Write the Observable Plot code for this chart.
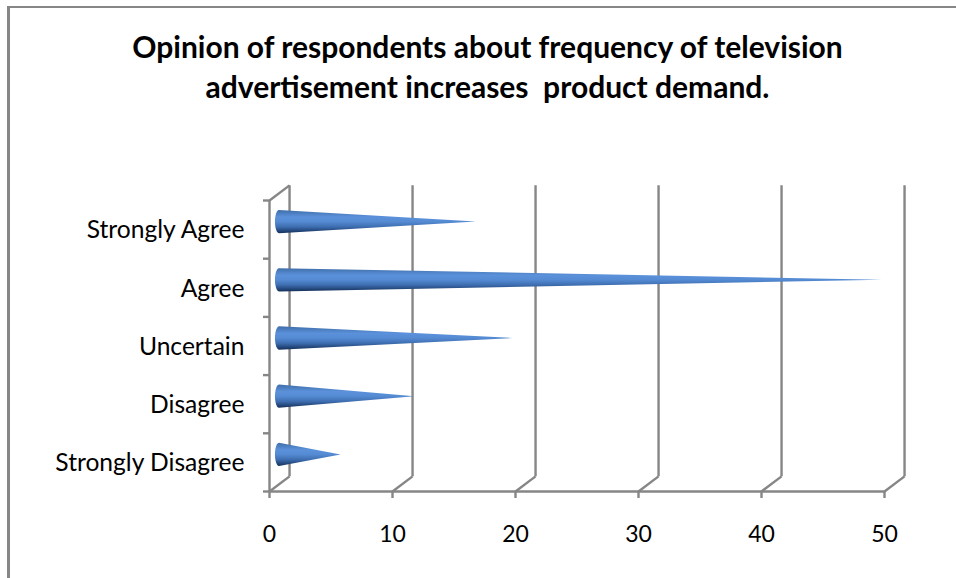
<!DOCTYPE html>
<html>
<head>
<meta charset="utf-8">
<script src="https://cdn.jsdelivr.net/npm/d3@7"></script>
<script src="https://cdn.jsdelivr.net/npm/@observablehq/plot@0.6"></script>
<style>
  html, body { margin: 0; padding: 0; background: #fff; overflow: hidden; }
  #frame { position: absolute; left: 7px; top: 6px; right: 0; bottom: 0;
           border-top: 2px solid #868686; border-left: 3px solid #868686; }
  #title { position: absolute; left: 0; top: 26px; width: 975px; text-align: center;
           font: bold 30px/40px Lato, sans-serif; color: #000; }
  #chart { position: absolute; left: 0; top: 120px; }
</style>
</head>
<body>
<div id="frame"></div>
<div id="title">Opinion of respondents about frequency of television<br>advertisement increases&nbsp; product demand.</div>
<div id="chart"></div>
<script>
// Responses, listed bottom to top along the vertical axis
const categories = ["Strongly Disagree", "Disagree", "Uncertain", "Agree", "Strongly Agree"];
const respondents = [5, 11, 19, 49, 16];
const xTicks = [0, 10, 20, 30, 40, 50];
const slotEdges = [0, 1, 2, 3, 4, 5];

// Depth of the pseudo-3D wall, in scale units
const depthX = 1.63, depthY = 0.26;
const axisGray = "#868686";
const lineWidth = 2.4;

// Each cone outline: a rounded elliptical base tapering to a tip at the value
const baseWidth = 0.33, baseHalf = 0.2;
const cones = categories.flatMap((category, i) => {
  const mid = i + 0.5;
  const base = d3.range(0, 91, 15).map(deg => {
    const t = deg * Math.PI / 180;
    const half = baseHalf * Math.sin(t);
    return {category, x: -baseWidth * Math.cos(t), y1: mid - half, y2: mid + half};
  });
  return [...base, {category, x: respondents[i], y1: mid, y2: mid}];
});

const gridStyle = {stroke: axisGray, strokeWidth: lineWidth};

const plot = Plot.plot({
  width: 956,
  height: 458,
  marginLeft: 269,
  marginRight: 72,
  marginTop: 80,
  marginBottom: 87,
  style: {background: "transparent", fontFamily: "Lato, sans-serif", fontSize: "23px", color: "#000"},
  x: {domain: [0, 50], axis: null},
  y: {domain: [0, 5], axis: null},
  marks: [
    // Back wall gridlines and the floor connectors leading to them
    Plot.link(xTicks, {x1: d => d, y1: 0, x2: d => d + depthX, y2: depthY, ...gridStyle}),
    Plot.link(xTicks, {x1: d => d + depthX, y1: depthY, x2: d => d + depthX, y2: 5 + depthY, ...gridStyle}),
    Plot.link([0], {x1: 0, y1: 5, x2: depthX, y2: 5 + depthY, ...gridStyle}),
    // Front axis lines
    Plot.ruleX([0], {y1: 0, y2: 5, ...gridStyle}),
    Plot.ruleY([0], {x1: 0, x2: 50, ...gridStyle}),
    // Tick marks
    Plot.ruleY(slotEdges, {x1: -0.49, x2: 0, ...gridStyle}),
    Plot.ruleX(xTicks, {y1: -0.12, y2: 0, ...gridStyle}),
    // Axis labels
    Plot.axisY(d3.range(5).map(i => i + 0.5), {
      anchor: "left", tickSize: 0, tickPadding: 25, label: null, fontSize: 24.6, dy: 1,
      tickFormat: d => categories[d - 0.5]
    }),
    Plot.axisX(xTicks, {anchor: "bottom", tickSize: 0, tickPadding: 34, label: null}),
    // Cones, shifted off the floor by the chart's depth
    Plot.areaY(cones, {x: "x", y1: "y1", y2: "y2", z: "category", fill: "url(#cone)", curve: "linear", dx: 10, dy: -7.5})
  ]
});

// Vertical shading that gives the cones their rounded look
const defs = d3.create("svg:defs");
const gradient = defs.append("linearGradient").attr("id", "cone").attr("x1", 0).attr("y1", 0).attr("x2", 0).attr("y2", 1);
[[0, "#3f6ea9"], [0.3, "#5b91da"], [0.5, "#558bd3"], [0.72, "#3e6eb1"], [1, "#14305a"]]
  .forEach(([offset, color]) => gradient.append("stop").attr("offset", offset).attr("stop-color", color));
plot.insertBefore(defs.node(), plot.firstChild);

document.getElementById("chart").append(plot);
</script>
</body>
</html>
